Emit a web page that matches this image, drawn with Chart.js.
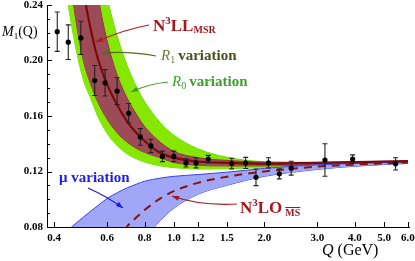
<!DOCTYPE html>
<html>
<head>
<meta charset="utf-8">
<script src="https://cdn.jsdelivr.net/npm/chart.js@4.4.1/dist/chart.umd.min.js"></script>
<style>
  html, body { margin: 0; padding: 0; background: #fff; }
</style>
</head>
<body>
<canvas id="chart" width="415" height="261"></canvas>
<script>
const qGrid = [0.40, 0.44, 0.47, 0.50, 0.53, 0.56, 0.60, 0.65, 0.70, 0.75, 0.80, 0.90, 1.0, 1.2, 1.5, 2.0, 3.0, 4.0, 6.0];

// N3LL MSR central curve and its R1 / R0 variation bands
const n3llCentral = [0.46, 0.346, 0.290, 0.251, 0.222, 0.201, 0.183, 0.1675, 0.156, 0.148, 0.142, 0.1335, 0.130, 0.1272, 0.1262, 0.1256, 0.1262, 0.1267, 0.1275];
const r1Upper = [0.50, 0.47, 0.386, 0.324, 0.279, 0.246, 0.2144, 0.1888, 0.1728, 0.1614, 0.1524, 0.1412, 0.1345, 0.1300, 0.1280, 0.1268, 0.1266, 0.1270, 0.1278];
const r1Lower = [0.394, 0.281, 0.2324, 0.2004, 0.1827, 0.1698, 0.1578, 0.1476, 0.1411, 0.1367, 0.1337, 0.1300, 0.1265, 0.1245, 0.1240, 0.1240, 0.1248, 0.1255, 0.1268];
const r0Upper = [0.55, 0.47, 0.40, 0.349, 0.3086, 0.2773, 0.2455, 0.2168, 0.1963, 0.1814, 0.1703, 0.1554, 0.1462, 0.1364, 0.1303, 0.1270, 0.1262, 0.1266, 0.1276];
const r0Lower = [0.334, 0.2495, 0.2116, 0.1864, 0.1724, 0.1594, 0.1476, 0.1384, 0.1327, 0.1292, 0.1268, 0.1241, 0.1228, 0.1218, 0.1220, 0.1228, 0.1240, 0.1250, 0.1265];

// N3LO MSbar central curve and mu variation band
const n3loCentral = [null, null, null, null, null, null, 0.062, 0.072, 0.0805, 0.0868, 0.0922, 0.1005, 0.1058, 0.1118, 0.1162, 0.1200, 0.1235, 0.1250, 0.1265];
const muUpper = [0.066, 0.0765, 0.0822, 0.0870, 0.0915, 0.0955, 0.1005, 0.1048, 0.1082, 0.1108, 0.1130, 0.1152, 0.1165, 0.1178, 0.1195, 0.1222, 0.1248, 0.1258, 0.1268];
const muLower = [0.000, 0.012, 0.020, 0.028, 0.034, 0.040, 0.046, 0.053, 0.059, 0.065, 0.0715, 0.0845, 0.0935, 0.1035, 0.1100, 0.1165, 0.1215, 0.1238, 0.1258];

// lattice data points
const dataQ   = [0.41, 0.446, 0.491, 0.546, 0.591, 0.648, 0.708, 0.774, 0.839, 0.917, 1.0, 1.098, 1.186, 1.302, 1.558, 1.734, 1.876, 2.064, 2.243, 2.456, 3.18, 3.93, 5.46];
const dataM   = [0.2208, 0.2132, 0.2163, 0.1856, 0.1839, 0.1779, 0.1620, 0.1449, 0.1384, 0.1309, 0.1309, 0.1262, 0.1262, 0.1290, 0.1257, 0.1262, 0.1158, 0.1262, 0.1183, 0.1224, 0.1283, 0.1290, 0.1255];
const dataErr = [0.0142, 0.0125, 0.0120, 0.0108, 0.0095, 0.0097, 0.0070, 0.0060, 0.0048, 0.0038, 0.0038, 0.0030, 0.0036, 0.0026, 0.0038, 0.0040, 0.0060, 0.0037, 0.0036, 0.0050, 0.0117, 0.0030, 0.0044];

// axis ticks
const xTicks = [0.4, 0.6, 0.8, 1.0, 1.2, 1.5, 2.0, 3.0, 4.0, 5.0, 6.0];
const yTicks = [0.08, 0.12, 0.16, 0.20, 0.24];
const yMinorStep = 0.01;

const pts = arr => qGrid.map((q, i) => ({ x: q, y: arr[i] }));

function curve(label, arr, color, width, extra) {
  return Object.assign({
    label, data: pts(arr), borderColor: color, borderWidth: width,
    pointRadius: 0, fill: false, cubicInterpolationMode: 'monotone', spanGaps: false
  }, extra || {});
}

const datasets = [
  { label: 'data', type: 'scatter', data: dataQ.map((q, i) => ({ x: q, y: dataM[i] })),
    pointRadius: 2.6, pointBackgroundColor: '#000', pointBorderColor: '#000', borderWidth: 0, order: 0 },
  curve('N3LL', n3llCentral, '#7a0b0b', 2.2, { order: 1 }),
  curve('N3LO', n3loCentral, '#8c1111', 2.0, { order: 2, borderDash: [8, 6] }),
  curve('muUp', muUpper, '#3343f2', 1, { order: 3, fill: '+1', backgroundColor: '#a0a7f7' }),
  curve('muLo', muLower, '#3343f2', 1, { order: 4 }),
  curve('r1Up', r1Upper, '#8e3640', 1, { order: 5, fill: '+1', backgroundColor: '#9d4c57' }),
  curve('r1Lo', r1Lower, '#8e3640', 1, { order: 6 }),
  curve('r0Up', r0Upper, '#66dd00', 1, { order: 7, fill: '+1', backgroundColor: '#86e800' }),
  curve('r0Lo', r0Lower, '#66dd00', 1, { order: 8 })
];

// error bars, drawn just before the points
const errorBars = {
  id: 'errorBars',
  beforeDatasetDraw(chart, args) {
    if (args.index !== 0) return;
    const { ctx, scales: { x, y } } = chart;
    ctx.save();
    ctx.strokeStyle = '#222';
    ctx.lineWidth = 1.1;
    dataQ.forEach((q, i) => {
      const px = x.getPixelForValue(q);
      const top = y.getPixelForValue(dataM[i] + dataErr[i]);
      const bot = y.getPixelForValue(dataM[i] - dataErr[i]);
      ctx.beginPath();
      ctx.moveTo(px, top); ctx.lineTo(px, bot);
      ctx.moveTo(px - 2.5, top); ctx.lineTo(px + 2.5, top);
      ctx.moveTo(px - 2.5, bot); ctx.lineTo(px + 2.5, bot);
      ctx.stroke();
    });
    ctx.restore();
  }
};

// tick marks pointing into the plot
const innerTicks = {
  id: 'innerTicks',
  afterDraw(chart) {
    const { ctx, scales: { x, y }, chartArea: a } = chart;
    ctx.save();
    ctx.strokeStyle = '#000';
    ctx.lineWidth = 1;
    ctx.beginPath();
    xTicks.forEach(v => {
      const px = Math.round(x.getPixelForValue(v)) + 0.5;
      ctx.moveTo(px, a.bottom); ctx.lineTo(px, a.bottom - 5);
    });
    for (let v = yTicks[0]; v <= yTicks[yTicks.length - 1] + 1e-9; v += yMinorStep) {
      const py = Math.round(y.getPixelForValue(v)) + 0.5;
      const major = yTicks.some(t => Math.abs(t - v) < 1e-6);
      ctx.moveTo(a.left, py); ctx.lineTo(a.left + (major ? 5 : 3), py);
    }
    ctx.stroke();
    ctx.restore();
  }
};

function arrow(ctx, x0, y0, cx, cy, x1, y1, color) {
  ctx.strokeStyle = color; ctx.fillStyle = color; ctx.lineWidth = 1.2;
  ctx.beginPath(); ctx.moveTo(x0, y0); ctx.quadraticCurveTo(cx, cy, x1, y1); ctx.stroke();
  const t = Math.atan2(y1 - cy, x1 - cx), L = 7, W = 2.6;
  ctx.beginPath();
  ctx.moveTo(x1, y1);
  ctx.lineTo(x1 - L * Math.cos(t) + W * Math.sin(t), y1 - L * Math.sin(t) - W * Math.cos(t));
  ctx.lineTo(x1 - L * Math.cos(t) - W * Math.sin(t), y1 - L * Math.sin(t) + W * Math.cos(t));
  ctx.closePath(); ctx.fill();
}

// write runs of [text, font, dy] left to right from (x, y)
function runs(ctx, x, y, color, parts) {
  ctx.fillStyle = color;
  ctx.textBaseline = 'alphabetic';
  ctx.textAlign = 'left';
  parts.forEach(([txt, font, dy]) => {
    ctx.font = font;
    ctx.fillText(txt, x, y + (dy || 0));
    x += ctx.measureText(txt).width;
  });
  return x;
}

const SERIF = '"Liberation Serif", "DejaVu Serif", serif';

const labels = {
  id: 'labels',
  afterDraw(chart) {
    const ctx = chart.ctx;
    ctx.save();
    // axis titles
    runs(ctx, 2, 36, '#000', [['M', 'italic 14px ' + SERIF], ['1', '9px ' + SERIF, 3], ['(Q)', '14px ' + SERIF]]);
    runs(ctx, 322, 255, '#000', [['Q', 'italic 16px ' + SERIF], [' (GeV)', '16px ' + SERIF]]);

    // N3LL MSR
    const red = '#a3181c';
    runs(ctx, 153, 31, red, [['N', 'bold 17px ' + SERIF], ['3', 'bold 11px ' + SERIF, -7],
      ['LL', 'bold 17px ' + SERIF], ['MSR', 'bold 10px ' + SERIF, 2]]);
    arrow(ctx, 149, 25, 122, 30, 96, 42, '#b01a1a');

    // R1 variation
    let x = runs(ctx, 161, 60, '#6b7d3a', [['R', 'italic 15px ' + SERIF], ['1', '10px ' + SERIF, 3]]);
    runs(ctx, x + 3, 60, '#4d4d1c', [['variation', 'bold 15px ' + SERIF]]);
    arrow(ctx, 156, 56, 130, 51, 102, 53, '#566a20');

    // R0 variation
    x = runs(ctx, 172, 86, '#3c9e2c', [['R', 'italic 15px ' + SERIF], ['0', '10px ' + SERIF, 3]]);
    runs(ctx, x + 3, 86, '#3c9e2c', [['variation', 'bold 15px ' + SERIF]]);
    arrow(ctx, 168, 82, 148, 84, 131, 92, '#3aa020');

    // mu variation
    runs(ctx, 59, 182, '#2020e6', [['\u03bc variation', 'bold 15px ' + SERIF]]);
    arrow(ctx, 88, 188, 106, 196, 123, 208, '#1a1ae6');

    // N3LO MSbar
    x = runs(ctx, 240, 213, red, [['N', 'bold 17px ' + SERIF], ['3', 'bold 11px ' + SERIF, -7],
      ['LO', 'bold 17px ' + SERIF]]);
    ctx.font = 'bold 10px ' + SERIF;
    const msW = ctx.measureText('MS').width;
    runs(ctx, x + 3, 215.5, red, [['MS', 'bold 10px ' + SERIF]]);
    ctx.strokeStyle = red; ctx.lineWidth = 1;
    ctx.beginPath(); ctx.moveTo(x + 3, 207.5); ctx.lineTo(x + 3 + msW, 207.5); ctx.stroke();
    arrow(ctx, 237, 204, 200, 206, 172, 196, '#a3181c');
    ctx.restore();
  }
};

const tickFont = { family: SERIF, weight: 'bold', size: 11 };

new Chart(document.getElementById('chart'), {
  type: 'line',
  data: { datasets },
  options: {
    responsive: false,
    animation: false,
    layout: { padding: { top: 5, right: 6, left: 0, bottom: 0 } },
    plugins: { legend: { display: false }, tooltip: { enabled: false } },
    scales: {
      x: {
        type: 'logarithmic', min: 0.379, max: 6.05,
        grid: { display: false, drawTicks: false },
        border: { display: true, color: '#000', width: 1 },
        ticks: { font: tickFont, color: '#000', padding: 5, autoSkip: false, maxRotation: 0,
          callback: v => Number(v).toFixed(1) },
        afterBuildTicks: s => { s.ticks = xTicks.map(v => ({ value: v })); },
        afterFit: s => { s.height = 34; s.paddingLeft = 0; s.paddingRight = 0; }
      },
      y: {
        min: 0.08, max: 0.24,
        grid: { display: false, drawTicks: false },
        border: { display: true, color: '#000', width: 1 },
        ticks: { font: tickFont, color: '#000', padding: 4, callback: v => Number(v).toFixed(2) },
        afterBuildTicks: s => { s.ticks = yTicks.map(v => ({ value: v })); },
        afterFit: s => { s.width = 47; s.paddingTop = 0; s.paddingBottom = 0; }
      }
    }
  },
  plugins: [errorBars, innerTicks, labels]
});
</script>
</body>
</html>
